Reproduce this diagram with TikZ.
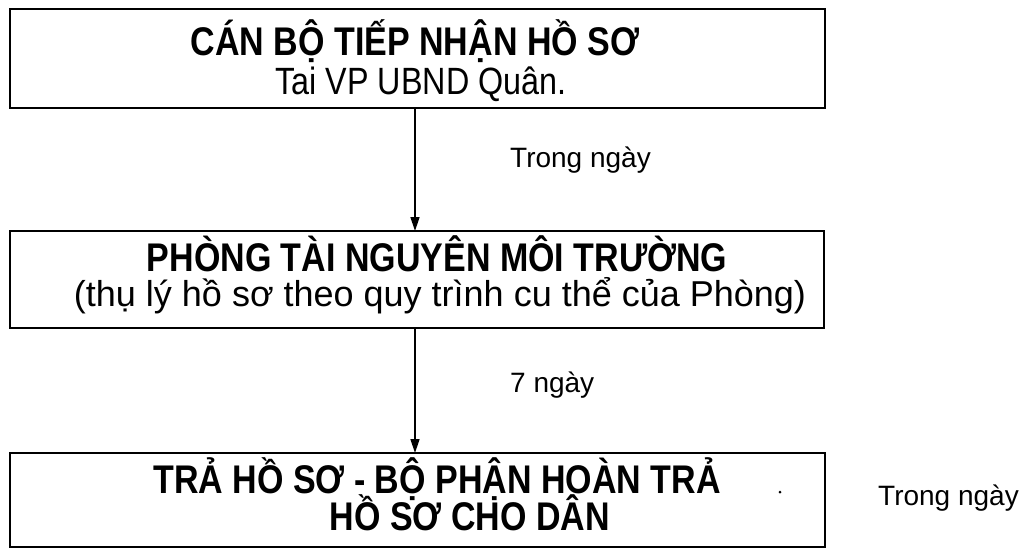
\documentclass[tikz,border=0pt]{standalone}
\usepackage{fontspec}
\setmainfont{Liberation Sans}
\newfontfamily\condfont{Liberation Sans}[FakeStretch=0.85]
\usetikzlibrary{arrows.meta}
\begin{document}
\begin{tikzpicture}[x=1pt,y=-1pt,
  box/.style={draw,line width=1.8pt,inner sep=0pt,outer sep=0pt,anchor=north west},
  title/.style={font=\condfont\fontsize{40}{44}\selectfont\bfseries,anchor=base,inner sep=0pt},
  sub/.style={font=\condfont\fontsize{38}{42}\selectfont,anchor=base,inner sep=0pt},
  wide/.style={font=\fontsize{36}{42}\selectfont,anchor=base,inner sep=0pt},
  lab/.style={font=\fontsize{28}{32}\selectfont,anchor=base west,inner sep=0pt},
  arr/.style={line width=1.4pt,-{Triangle[length=14pt,width=9pt]}}]
\useasboundingbox (0,0) rectangle (1020,550);
\fill[white] (0,0) rectangle (1020,550);
% boxes
\node[box,minimum width=815pt,minimum height=99pt] (b1) at (10,9) {};
\node[box,minimum width=814pt,minimum height=97pt] (b2) at (10,231) {};
\node[box,minimum width=815pt,minimum height=94pt] (b3) at (10,453) {};
% texts
\node[title] (t1) at (415,55) {CÁN BỘ TIẾP NHẬN HỒ SƠ};
\node[sub]   (s1) at (421,94) {Tai VP UBND Quân.};
\node[title] (t2) at (437,271) {PHÒNG TÀI NGUYÊN MÔI TRƯỜNG};
\node[wide]  (s2) at (440,306) {(thụ lý hồ sơ theo quy trình cu thể của Phòng)};
\node[title] (t3) at (437,493) {TRẢ HỒ SƠ - BỘ PHẬN HOÀN TRẢ};
\node[title] (t4) at (470,530) {HỒ SƠ CHO DÂN};
% labels
\node[lab] (l1) at (510,167) {Trong ngày};
\node[lab] (l2) at (510,392) {7 ngày};
\node[lab] (l3) at (878,505) {Trong ngày};
% arrows
\coordinate (ax) at (415,0);
\draw[arr] (b1.south -| ax) -- (b2.north -| ax);
\draw[arr] (b2.south -| ax) -- (b3.north -| ax);
% scan speck
\fill (780,492) circle (1.5pt);
\end{tikzpicture}
\end{document}
